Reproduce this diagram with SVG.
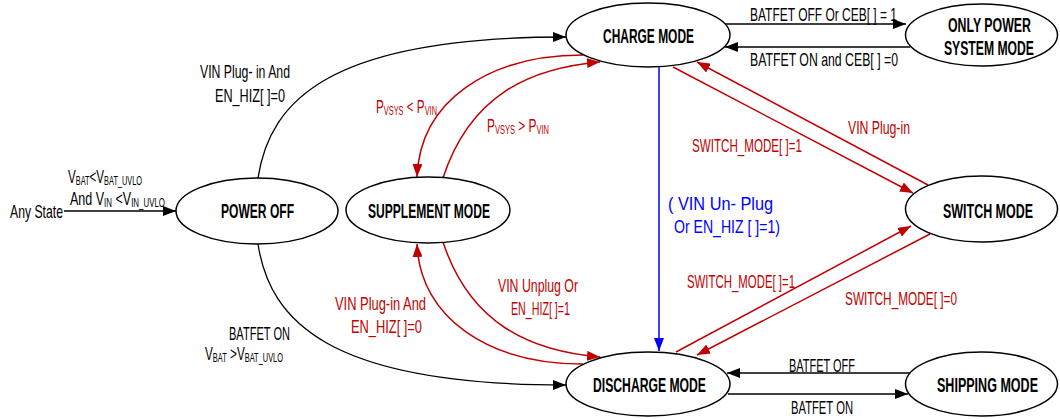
<svg xmlns="http://www.w3.org/2000/svg" width="1060" height="419" viewBox="0 0 1060 419">
<defs>
<style>
.node ellipse{fill:#fff;stroke:#000;stroke-width:1.5}
.nl{font-family:"Liberation Sans",Arial,sans-serif;font-weight:bold;font-size:21px;fill:#000;text-anchor:middle}
.el{font-family:"Liberation Sans",Arial,sans-serif;font-size:19px;fill:#000}
.red{fill:#C00000}
.blue{fill:#0000FF}
.sub{font-size:12px}
.k{stroke:#000;stroke-width:1.3;fill:none}
.r{stroke:#C00000;stroke-width:1.5;fill:none}
.b{stroke:#0000FF;stroke-width:1.5;fill:none}
</style>
<marker id="ak" markerUnits="userSpaceOnUse" markerWidth="13" markerHeight="10" refX="13" refY="5" orient="auto"><path d="M0,0 L13,5 L0,10 z" fill="#000"/></marker>
<marker id="ar" markerUnits="userSpaceOnUse" markerWidth="13" markerHeight="10" refX="13" refY="5" orient="auto"><path d="M0,0 L13,5 L0,10 z" fill="#C00000"/></marker>
<marker id="ab" markerUnits="userSpaceOnUse" markerWidth="13" markerHeight="10" refX="13" refY="5" orient="auto"><path d="M0,0 L13,5 L0,10 z" fill="#0000FF"/></marker>
</defs>
<rect width="1060" height="419" fill="#fff"/>

<g id="connectors">
<line class="k" x1="64" y1="211" x2="176" y2="211" marker-end="url(#ak)"/>
<path class="k" d="M258,178 C270,100 330,37 566,37" marker-end="url(#ak)"/>
<path class="k" d="M258,244 C270,322 330,385 566,385" marker-end="url(#ak)"/>
<path class="r" d="M583,55 C490,55 420,100 417,177" marker-end="url(#ar)"/>
<path class="r" d="M443,178 C470,95 530,68 600,62" marker-end="url(#ar)"/>
<path class="r" d="M583,364 C490,364 420,319 417,244" marker-end="url(#ar)"/>
<path class="r" d="M443,242 C470,324 530,351 600,357" marker-end="url(#ar)"/>
<line class="b" x1="659" y1="67" x2="659" y2="351" marker-end="url(#ab)"/>
<line class="k" x1="725" y1="24" x2="906" y2="24" marker-end="url(#ak)"/>
<line class="k" x1="910" y1="47" x2="725" y2="47" marker-end="url(#ak)"/>
<line class="r" x1="673" y1="67" x2="913" y2="193" marker-end="url(#ar)"/>
<line class="r" x1="928" y1="185" x2="697" y2="62" marker-end="url(#ar)"/>
<line class="r" x1="676" y1="352" x2="911" y2="226" marker-end="url(#ar)"/>
<line class="r" x1="930" y1="234" x2="697" y2="355" marker-end="url(#ar)"/>
<line class="k" x1="910" y1="373" x2="727" y2="373" marker-end="url(#ak)"/>
<line class="k" x1="728" y1="394" x2="908" y2="394" marker-end="url(#ak)"/>
</g>

<g id="labels">
<text class="el" x="10" y="218" font-size="16" textLength="53" lengthAdjust="spacingAndGlyphs">Any State</text>
<text class="el" x="68" y="183" font-size="16" textLength="74" lengthAdjust="spacingAndGlyphs">V<tspan class="sub" dy="2">BAT</tspan><tspan dy="-2">&lt;V</tspan><tspan class="sub" dy="2">BAT_UVLO</tspan></text>
<text class="el" x="70" y="205" font-size="16" textLength="95" lengthAdjust="spacingAndGlyphs">And V<tspan class="sub" dy="2">IN</tspan><tspan dy="-2"> &lt;V</tspan><tspan class="sub" dy="2">IN_UVLO</tspan></text>
<text class="el" x="200" y="78" textLength="90" lengthAdjust="spacingAndGlyphs">VIN Plug- in And</text>
<text class="el" x="215" y="102" textLength="70" lengthAdjust="spacingAndGlyphs">EN_HIZ[ ]=0</text>
<text class="el red" x="376" y="113" textLength="61" lengthAdjust="spacingAndGlyphs">P<tspan class="sub" dy="2">VSYS</tspan><tspan dy="-2"> &lt; P</tspan><tspan class="sub" dy="2">VIN</tspan></text>
<text class="el red" x="487" y="132" textLength="62" lengthAdjust="spacingAndGlyphs">P<tspan class="sub" dy="2">VSYS</tspan><tspan dy="-2"> &gt; P</tspan><tspan class="sub" dy="2">VIN</tspan></text>
<text class="el" x="750" y="21" textLength="147" lengthAdjust="spacingAndGlyphs">BATFET OFF Or CEB[ ] = 1</text>
<text class="el" x="750" y="66" textLength="148" lengthAdjust="spacingAndGlyphs">BATFET ON and CEB[ ] =0</text>
<text class="el red" x="848" y="134" textLength="62" lengthAdjust="spacingAndGlyphs">VIN Plug-in</text>
<text class="el red" x="692" y="152" textLength="110" lengthAdjust="spacingAndGlyphs">SWITCH_MODE[ ]=1</text>
<text class="el blue" x="668" y="210" textLength="105" lengthAdjust="spacingAndGlyphs">( VIN Un- Plug</text>
<text class="el blue" x="674" y="233" textLength="106" lengthAdjust="spacingAndGlyphs">Or EN_HIZ [ ]=1)</text>
<text class="el" x="229" y="340" textLength="61" lengthAdjust="spacingAndGlyphs">BATFET ON</text>
<text class="el" x="205" y="360" font-size="16" textLength="78" lengthAdjust="spacingAndGlyphs">V<tspan class="sub" dy="2">BAT</tspan><tspan dy="-2">  &gt;V</tspan><tspan class="sub" dy="2">BAT_UVLO</tspan></text>
<text class="el red" x="335" y="310" textLength="91" lengthAdjust="spacingAndGlyphs">VIN Plug-in And</text>
<text class="el red" x="351" y="333" textLength="71" lengthAdjust="spacingAndGlyphs">EN_HIZ[ ]=0</text>
<text class="el red" x="498" y="292" textLength="80" lengthAdjust="spacingAndGlyphs">VIN Unplug Or</text>
<text class="el red" x="511" y="315" textLength="59" lengthAdjust="spacingAndGlyphs">EN_HIZ[ ]=1</text>
<text class="el red" x="687" y="288" textLength="108" lengthAdjust="spacingAndGlyphs">SWITCH_MODE[ ]=1</text>
<text class="el red" x="845" y="305" textLength="112" lengthAdjust="spacingAndGlyphs">SWITCH_MODE[ ]=0</text>
<text class="el" x="789" y="372" textLength="66" lengthAdjust="spacingAndGlyphs">BATFET OFF</text>
<text class="el" x="791" y="414" textLength="62" lengthAdjust="spacingAndGlyphs">BATFET ON</text>
</g>

<g id="charge" class="node"><ellipse cx="648" cy="35" rx="82" ry="32"/><text class="nl" x="648.5" y="43" textLength="91" lengthAdjust="spacingAndGlyphs">CHARGE MODE</text></g>
<g id="onlypower" class="node"><ellipse cx="981.5" cy="35" rx="76" ry="31"/><text class="nl" x="989.5" y="32" textLength="83" lengthAdjust="spacingAndGlyphs">ONLY POWER</text><text class="nl" x="989" y="55" textLength="90" lengthAdjust="spacingAndGlyphs">SYSTEM MODE</text></g>
<g id="poweroff" class="node"><ellipse cx="257" cy="211" rx="81" ry="33"/><text class="nl" x="257.5" y="218" textLength="73" lengthAdjust="spacingAndGlyphs">POWER OFF</text></g>
<g id="supplement" class="node"><ellipse cx="428" cy="210" rx="82" ry="33"/><text class="nl" x="429" y="218" textLength="122" lengthAdjust="spacingAndGlyphs">SUPPLEMENT MODE</text></g>
<g id="switch" class="node"><ellipse cx="981.5" cy="209" rx="76" ry="33"/><text class="nl" x="988" y="218" textLength="90" lengthAdjust="spacingAndGlyphs">SWITCH MODE</text></g>
<g id="discharge" class="node"><ellipse cx="648" cy="384" rx="82" ry="32"/><text class="nl" x="649.5" y="392" textLength="113" lengthAdjust="spacingAndGlyphs">DISCHARGE MODE</text></g>
<g id="shipping" class="node"><ellipse cx="981.5" cy="384" rx="76" ry="32"/><text class="nl" x="987.5" y="392" textLength="101" lengthAdjust="spacingAndGlyphs">SHIPPING MODE</text></g>
</svg>
